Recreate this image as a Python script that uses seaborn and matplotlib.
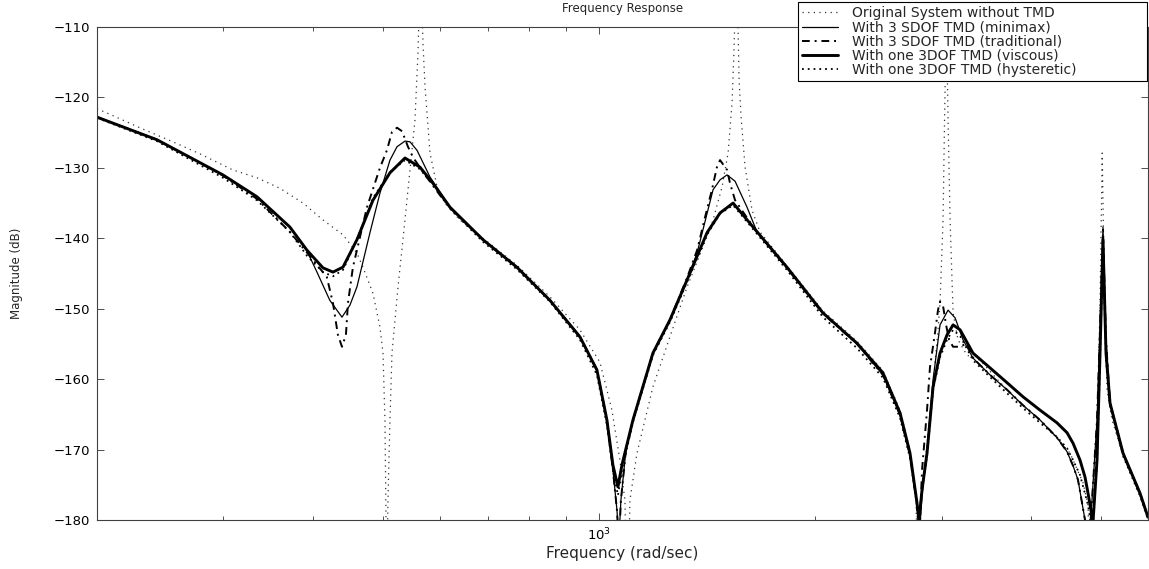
import matplotlib
matplotlib.use("Agg")
import matplotlib.pyplot as plt
import seaborn as sns
from matplotlib.ticker import FixedLocator, NullFormatter

# ---------------- data ----------------
labels = [
    "Original System without TMD",
    "With 3 SDOF TMD (minimax)",
    "With 3 SDOF TMD (traditional)",
    "With one 3DOF TMD (viscous)",
    "With one 3DOF TMD (hysteretic)",
]

freq_original = [200.0, 206.4, 229.4, 255.0, 278.1, 309.2, 334.0, 359.5, 387.2, 412.8,
                 440.1, 460.3, 469.2, 484.5, 495.5, 500.4, 503.5, 505.1, 506.0, 508.4,
                 511.7, 515.0, 525.1, 536.9, 545.6, 554.4, 559.8, 564.3, 568.9, 572.6,
                 581.8, 595.1, 610.3, 640.1, 689.5, 768.6, 854.5, 941.0, 1003.2, 1042.6,
                 1069.6, 1086.9, 1095.7, 1104.5, 1129.8, 1189.0, 1255.6, 1326.7, 1396.3, 1441.9,
                 1484.2, 1513.0, 1532.5, 1541.9, 1554.8, 1567.4, 1577.6, 1597.8, 1633.9, 1676.2,
                 1827.1, 2051.2, 2287.5, 2486.0, 2626.1, 2711.4, 2764.3, 2786.6, 2809.1, 2863.5,
                 2919.4, 2966.0, 2985.5, 3014.5, 3029.0, 3038.8, 3045.9, 3053.6, 3063.5, 3083.3,
                 3113.0, 3162.3, 3254.4, 3393.9, 3772.6, 4207.1, 4528.9, 4721.9, 4798.6, 4844.7,
                 4891.3, 4954.7, 4986.8, 5010.9, 5021.6, 5034.2, 5058.4, 5099.5, 5182.2, 5368.2,
                 5669.3, 5816.0]
mag_original = [-121.6, -122.2, -124.3, -126.3, -128.0, -130.3, -131.4, -132.9, -135.0, -137.4,
                -139.5, -142.1, -144.1, -147.8, -152.6, -156.3, -165.8, -178.6, -195.0, -177.2,
                -165.8, -156.3, -146.9, -137.4, -130.3, -123.2, -113.7, -100.0, -112.5, -118.5,
                -127.9, -132.7, -135.0, -137.4, -140.0, -143.8, -148.3, -153.0, -157.6, -164.4,
                -171.5, -177.2, -195.0, -177.2, -170.5, -161.1, -154.0, -146.9, -141.2, -137.4,
                -132.7, -127.9, -120.8, -113.3, -100.0, -117.5, -122.8, -129.9, -136.0, -139.1,
                -143.9, -150.3, -154.6, -158.8, -164.4, -170.1, -177.2, -195.0, -177.2, -169.3,
                -160.8, -153.0, -149.2, -137.4, -123.2, -114.7, -100.0, -114.7, -123.2, -137.4,
                -150.6, -154.4, -156.6, -157.3, -162.5, -166.8, -170.5, -174.7, -177.9, -195.0,
                -177.2, -163.0, -148.8, -134.6, -127.9, -134.6, -148.8, -161.5, -165.8, -170.8,
                -176.5, -179.9]

freq_minimax = [200.0, 242.3, 269.4, 299.5, 334.0, 371.2, 392.2, 404.9, 421.9, 438.7,
                450.0, 460.3, 479.9, 495.5, 511.7, 523.4, 536.9, 545.6, 558.0, 581.8,
                606.6, 620.4, 689.5, 768.6, 854.5, 941.0, 993.6, 1025.9, 1045.9, 1059.5,
                1066.2, 1073.0, 1090.4, 1115.3, 1189.0, 1255.6, 1326.7, 1369.9, 1441.9, 1474.6,
                1508.1, 1547.4, 1608.1, 1660.1, 1827.1, 2051.2, 2287.5, 2486.0, 2626.1, 2711.4,
                2773.1, 2791.1, 2818.2, 2863.5, 2919.4, 2985.5, 3063.5, 3133.2, 3213.8, 3317.8,
                3504.6, 3700.6, 3895.1, 4114.1, 4343.9, 4485.9, 4573.7, 4646.6, 4752.4, 4798.6,
                4860.0, 4938.9, 4986.8, 5034.2, 5083.3, 5149.1, 5368.2, 5669.3, 5816.0]
mag_minimax = [-122.8, -126.0, -128.5, -131.0, -134.1, -138.4, -141.8, -144.8, -148.8, -151.2,
               -149.5, -146.9, -139.2, -133.6, -128.9, -127.0, -126.2, -126.3, -127.5, -131.3,
               -134.1, -135.6, -140.2, -144.1, -148.8, -154.0, -158.7, -165.8, -172.9, -178.6,
               -182.8, -177.2, -170.1, -165.8, -156.3, -151.6, -145.9, -142.1, -133.1, -131.7,
               -131.0, -131.9, -135.6, -139.1, -144.2, -150.7, -155.0, -159.4, -165.1, -170.8,
               -177.9, -182.8, -176.5, -170.1, -160.1, -152.3, -150.2, -151.3, -154.4, -157.0,
               -159.4, -161.5, -163.7, -165.8, -168.3, -170.3, -172.3, -174.3, -180.0, -183.5,
               -177.2, -165.8, -153.0, -138.4, -154.4, -163.4, -170.5, -176.2, -179.6]

freq_traditional = [200.0, 242.3, 269.4, 299.5, 334.0, 371.2, 402.2, 417.9, 426.2, 433.0,
                    438.7, 444.3, 447.2, 454.4, 475.3, 495.5, 506.7, 515.0, 523.4, 531.9,
                    542.1, 550.9, 572.6, 600.8, 620.4, 689.5, 768.6, 854.5, 941.0, 993.6,
                    1025.9, 1045.9, 1059.5, 1066.2, 1073.0, 1090.4, 1115.3, 1189.0, 1255.6, 1326.7,
                    1369.9, 1405.4, 1436.8, 1459.9, 1474.6, 1508.1, 1522.7, 1547.4, 1608.1, 1660.1,
                    1827.1, 2051.2, 2287.5, 2486.0, 2626.1, 2711.4, 2773.1, 2791.1, 2818.2, 2863.5,
                    2890.7, 2937.8, 2966.0, 2985.5, 3014.5, 3043.8, 3073.4, 3113.0, 3184.1, 3254.4,
                    3317.8, 3504.6, 3700.6, 3895.1, 4114.1, 4343.9, 4485.9, 4573.7, 4646.6, 4752.4,
                    4798.6, 4860.0, 4938.9, 4986.8, 5034.2, 5083.3, 5149.1, 5368.2, 5669.3, 5816.0]
mag_traditional = [-122.8, -126.0, -128.5, -131.1, -134.4, -139.1, -143.4, -145.5, -149.2, -153.7,
                   -155.4, -153.7, -149.2, -144.1, -135.6, -130.0, -127.5, -124.9, -124.3, -124.8,
                   -127.0, -128.5, -131.0, -133.9, -135.6, -140.2, -144.1, -148.8, -154.0, -158.7,
                   -165.8, -172.9, -178.6, -183.5, -177.2, -170.1, -165.8, -156.3, -151.6, -145.6,
                   -141.7, -137.0, -133.1, -129.9, -128.9, -130.3, -132.2, -134.6, -137.1, -139.1,
                   -144.2, -150.7, -155.0, -159.4, -165.1, -170.8, -177.9, -183.5, -172.9, -164.4,
                   -158.3, -153.4, -150.2, -149.0, -149.6, -152.3, -154.4, -155.4, -155.4, -154.9,
                   -157.0, -159.4, -161.5, -163.7, -165.8, -168.3, -170.3, -172.3, -174.3, -180.0,
                   -183.5, -177.2, -165.8, -153.0, -138.8, -154.4, -163.4, -170.5, -176.2, -179.6]

freq_viscous = [200.0, 242.3, 269.4, 299.5, 334.0, 371.2, 392.2, 412.8, 426.2, 440.1,
                460.3, 484.5, 511.7, 536.9, 563.4, 587.4, 620.4, 689.5, 768.6, 854.5,
                941.0, 993.6, 1025.9, 1045.9, 1062.9, 1076.5, 1115.3, 1189.0, 1255.6, 1326.7,
                1414.4, 1474.6, 1537.5, 1639.2, 1827.1, 2051.2, 2287.5, 2486.0, 2626.1, 2711.4,
                2773.1, 2791.1, 2818.2, 2863.5, 2919.4, 2985.5, 3053.6, 3113.0, 3184.1, 3317.8,
                3504.6, 3700.6, 3895.1, 4114.1, 4343.9, 4485.9, 4573.7, 4677.0, 4752.4, 4798.6,
                4875.7, 4938.9, 4986.8, 5034.2, 5083.3, 5149.1, 5368.2, 5669.3, 5816.0]
mag_viscous = [-122.8, -126.0, -128.5, -131.0, -134.1, -138.4, -141.7, -144.2, -144.8, -144.1,
               -140.2, -134.6, -130.7, -128.6, -129.9, -132.2, -135.6, -140.2, -144.1, -148.8,
               -154.0, -158.7, -165.8, -172.2, -175.3, -172.2, -165.8, -156.3, -151.6, -145.9,
               -139.2, -136.4, -135.0, -138.4, -144.1, -150.6, -154.9, -159.1, -164.8, -170.5,
               -177.6, -180.0, -175.7, -170.5, -161.1, -156.3, -153.7, -152.3, -153.0, -156.3,
               -158.4, -160.5, -162.5, -164.4, -166.2, -167.6, -169.1, -171.5, -173.9, -176.2,
               -180.3, -171.5, -156.3, -140.2, -156.3, -163.4, -170.5, -176.2, -179.6]

freq_hysteretic = [200.0, 242.3, 269.4, 299.5, 334.0, 371.2, 392.2, 412.8, 426.2, 440.1,
                   460.3, 484.5, 511.7, 536.9, 563.4, 587.4, 620.4, 689.5, 768.6, 854.5,
                   941.0, 993.6, 1025.9, 1045.9, 1062.9, 1076.5, 1115.3, 1189.0, 1255.6, 1326.7,
                   1414.4, 1474.6, 1537.5, 1639.2, 1827.1, 2051.2, 2287.5, 2486.0, 2626.1, 2711.4,
                   2773.1, 2791.1, 2818.2, 2863.5, 2919.4, 2985.5, 3053.6, 3113.0, 3184.1, 3317.8,
                   3504.6, 3700.6, 3895.1, 4114.1, 4343.9, 4485.9, 4573.7, 4677.0, 4798.6, 4860.0,
                   4938.9, 4986.8, 5034.2, 5083.3, 5149.1, 5368.2, 5669.3, 5816.0]
mag_hysteretic = [-122.9, -126.2, -128.8, -131.4, -134.6, -139.1, -142.5, -144.8, -145.4, -144.5,
                  -140.2, -134.3, -130.6, -128.9, -130.2, -132.4, -135.8, -140.5, -144.4, -149.0,
                  -154.4, -159.4, -166.5, -172.9, -176.5, -172.9, -166.1, -156.6, -151.9, -146.2,
                  -139.5, -136.5, -135.3, -138.7, -144.5, -151.2, -155.6, -159.8, -165.5, -171.2,
                  -177.9, -180.7, -175.7, -170.8, -161.5, -156.9, -154.4, -153.0, -153.9, -157.3,
                  -159.7, -162.0, -164.1, -166.2, -168.2, -169.8, -171.5, -173.6, -177.9, -181.4,
                  -172.2, -157.3, -141.0, -157.0, -163.8, -170.9, -176.6, -179.9]

y_ticks = [-180, -170, -160, -150, -140, -130, -120, -110]
x_major = [1000]
x_major_labels = [r"$10^{3}$"]
x_minor = [200, 300, 400, 500, 600, 700, 800, 900, 2000, 3000, 4000, 5000]

# ---------------- styling ----------------
sns.set_style("ticks")
plt.rcParams["font.family"] = ["DejaVu Sans"]
plt.rcParams["axes.unicode_minus"] = True

W, H = 1149, 569
fig, ax = plt.subplots(figsize=(W / 100, H / 100), dpi=100)
fig.subplots_adjust(left=97 / W, right=1148 / W, bottom=1 - 520 / H, top=1 - 27 / H)

series = [
    (freq_original, mag_original, dict(color="0.2", linewidth=0.9, linestyle=(0, (1, 3.5)))),
    (freq_minimax, mag_minimax, dict(color="black", linewidth=0.9, linestyle="-")),
    (freq_traditional, mag_traditional, dict(color="black", linewidth=1.4, linestyle=(0, (4, 2.5, 1, 2.5)))),
    (freq_viscous, mag_viscous, dict(color="black", linewidth=2.1, linestyle="-")),
    (freq_hysteretic, mag_hysteretic, dict(color="black", linewidth=1.3, linestyle=(0, (1, 2.2)))),
]

for lab, (fx, my, st) in zip(labels, series):
    sns.lineplot(x=fx, y=my, ax=ax, sort=False, estimator=None, label=lab, **st)

ax.set_xscale("log")
ax.set_xlim(200, 5816)
ax.set_ylim(-180, -110)
ax.set_yticks(y_ticks)
ax.xaxis.set_major_locator(FixedLocator(x_major))
ax.set_xticklabels(x_major_labels)
ax.xaxis.set_minor_locator(FixedLocator(x_minor))
ax.xaxis.set_minor_formatter(NullFormatter())

ax.tick_params(which="both", direction="in", top=True, right=True,
               labelsize=9.5, width=0.6, color="0.2", labelcolor="black")
ax.tick_params(which="major", length=5, pad=5)
ax.tick_params(which="minor", length=3)
for sp in ax.spines.values():
    sp.set_visible(True)
    sp.set_linewidth(0.8)
    sp.set_color("0.25")

ax.set_title("Frequency Response", fontsize=8.5, pad=11)
ax.set_xlabel("Frequency (rad/sec)", fontsize=11)
ax.set_ylabel("Magnitude (dB)", fontsize=8.5)
ax.xaxis.set_label_coords(0.5, -0.052)
ax.yaxis.set_label_coords(-0.070, 0.5)

handles, labs = ax.get_legend_handles_labels()
leg = ax.legend(handles, labs, loc="upper left",
                bbox_to_anchor=(798 / W, 1 - 78 / H, 349 / W, 76 / H),
                bbox_transform=fig.transFigure, mode="expand",
                fontsize=10, frameon=True, fancybox=False, shadow=False,
                edgecolor="black", framealpha=1, borderaxespad=0,
                labelspacing=0.02, handlelength=2.6, handletextpad=1.0, borderpad=0.3)
leg.get_frame().set_linewidth(0.8)

fig.savefig("out.png", dpi=100)
